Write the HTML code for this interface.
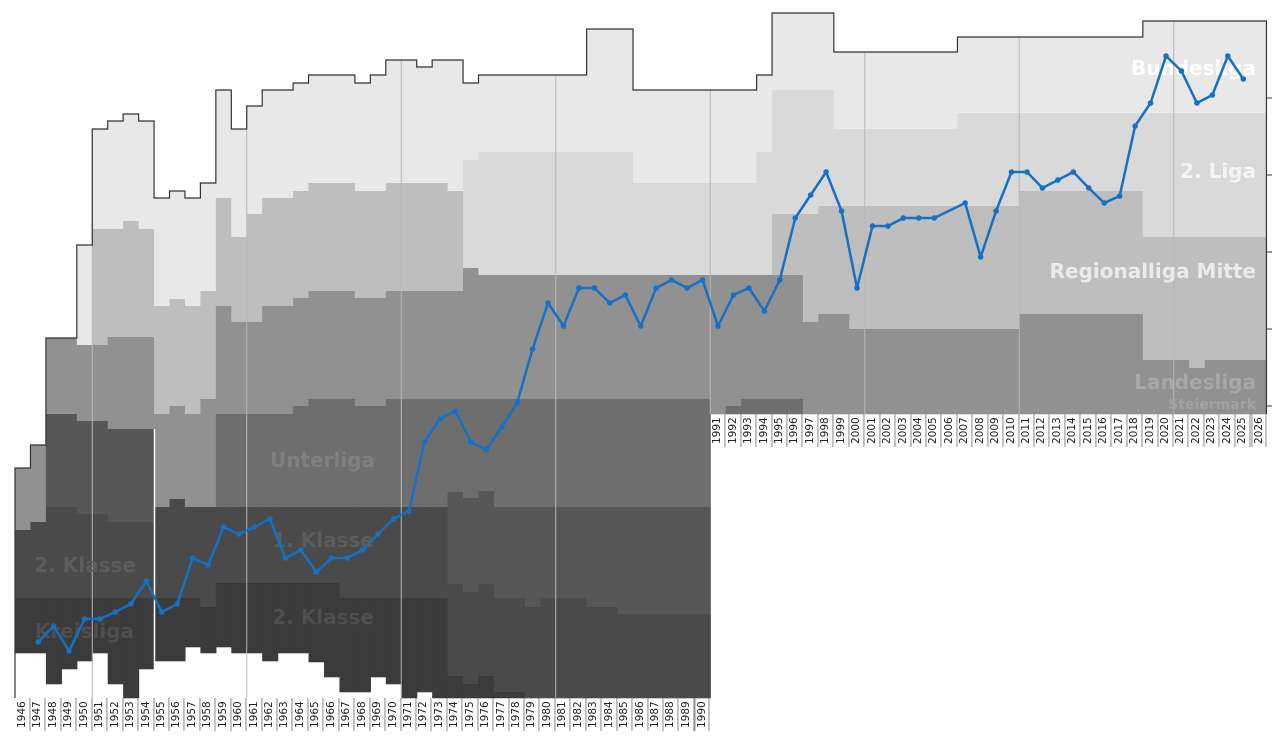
<!DOCTYPE html>
<html><head><meta charset="utf-8">
<style>
html,body{margin:0;padding:0;background:#fff;}
#wrap{position:relative;width:1280px;height:738px;overflow:hidden;font-family:"DejaVu Sans","Liberation Sans",sans-serif;}
svg{position:absolute;left:0;top:0;}
.row{position:absolute;display:flex;height:33px;}
.row div{box-sizing:border-box;width:15.45px;flex:none;border-left:1px solid #888;height:33px;writing-mode:vertical-rl;transform:rotate(180deg);font-size:10.5px;line-height:14px;text-align:center;color:#222;}
.row div:last-child{border-left:1px solid #888;border-right:1px solid #888;}
</style></head><body>
<div id="wrap">
<svg id="s" width="1280" height="738" xmlns="http://www.w3.org/2000/svg">
<g id="fill"></g>
<g id="grid"></g>
<path id="outline" fill="none" stroke="#333" stroke-width="1.2"/>
<line x1="154.5" y1="429" x2="154.5" y2="698" stroke="#fff" stroke-width="1.5"/>
<g stroke="#333" stroke-width="1">
<line x1="1266" y1="98" x2="1272" y2="98"/><line x1="1266" y1="175" x2="1272" y2="175"/><line x1="1266" y1="252" x2="1272" y2="252"/><line x1="1266" y1="329" x2="1272" y2="329"/><line x1="1266" y1="406" x2="1272" y2="406"/>
</g>
<g font-family="DejaVu Sans, Liberation Sans, sans-serif" font-weight="bold" text-anchor="end">
<text x="1256" y="75" font-size="20" fill="#ffffff">Bundesliga</text>
<text x="1256" y="178" font-size="20" fill="#f4f4f4">2. Liga</text>
<text x="1256" y="278" font-size="20" fill="#ebebeb">Regionalliga Mitte</text>
<text x="1256" y="389" font-size="20" fill="#a8a8a8">Landesliga</text>
<text x="1256" y="409" font-size="14" fill="#a2a2a2">Steiermark</text>
<text x="375" y="467" font-size="20" fill="#808080">Unterliga</text>
<text x="374" y="547" font-size="20" fill="#5c5c5c">1. Klasse</text>
<text x="136" y="572" font-size="20" fill="#5c5c5c">2. Klasse</text>
<text x="374" y="624" font-size="20" fill="#4e4e4e">2. Klasse</text>
<text x="134" y="638" font-size="20" fill="#4e4e4e">Kreisliga</text>
</g>
<path id="blue" fill="none" stroke="#1670c4" stroke-width="2.5" stroke-linejoin="round"/>
<g id="dots" fill="#1670c4"></g>
</svg>
<div class="row" style="left:15px;top:698px;">
<div>1946</div><div>1947</div><div>1948</div><div>1949</div><div>1950</div><div>1951</div><div>1952</div><div>1953</div><div>1954</div><div>1955</div><div>1956</div><div>1957</div><div>1958</div><div>1959</div><div>1960</div><div>1961</div><div>1962</div><div>1963</div><div>1964</div><div>1965</div><div>1966</div><div>1967</div><div>1968</div><div>1969</div><div>1970</div><div>1971</div><div>1972</div><div>1973</div><div>1974</div><div>1975</div><div>1976</div><div>1977</div><div>1978</div><div>1979</div><div>1980</div><div>1981</div><div>1982</div><div>1983</div><div>1984</div><div>1985</div><div>1986</div><div>1987</div><div>1988</div><div>1989</div><div>1990</div>
</div>
<div class="row" style="left:710.25px;top:414px;">
<div>1991</div><div>1992</div><div>1993</div><div>1994</div><div>1995</div><div>1996</div><div>1997</div><div>1998</div><div>1999</div><div>2000</div><div>2001</div><div>2002</div><div>2003</div><div>2004</div><div>2005</div><div>2006</div><div>2007</div><div>2008</div><div>2009</div><div>2010</div><div>2011</div><div>2012</div><div>2013</div><div>2014</div><div>2015</div><div>2016</div><div>2017</div><div>2018</div><div>2019</div><div>2020</div><div>2021</div><div>2022</div><div>2023</div><div>2024</div><div>2025</div><div>2026</div>
</div>
</div>
<script>
var C={A:"#e8e8e8",B:"#d9d9d9",C:"#bebebe",D:"#919191",E:"#6e6e6e",F:"#575757",G:"#4a4a4a",H:"#3b3b3b"};
var d=[
[653,"D468 G530 H598"],[653,"D445 G522 H598"],[684,"D338 F414 G507 H598"],[669,"D338 F414 G507 H598"],
[661,"A245 D345 F421 G514 H598"],[653,"A129 C229 D345 F421 G514 H598"],[684,"A121 C229 D337 F429 G522 H598"],
[698,"A114 C221 D337 F429 G522 H598"],[669,"A121 C229 D337 F429 G522 H598"],
[661,"A198 C306 D414 G507 H598"],[661,"A191 C299 D406 G499 H598"],[647,"A198 C306 D414 G507 H598"],[653,"A183 C291 D399 G507 H607"],
[647,"A90 C198 D306 E414 G507 H583"],[653,"A129 C237 D322 E414 G507 H583"],[653,"A106 C214 D322 E414 G507 H583"],
[661,"A90 C198 D306 E414 G507 H583"],[653,"A90 C198 D306 E414 G507 H583"],[653,"A83 C191 D298 E406 G507 H583"],
[662,"A75 C183 D291 E399 G507 H583"],[677,"A75 C183 D291 E399 G507 H583"],[692,"A75 C183 D291 E399 G507 H598"],
[692,"A83 C191 D298 E406 G507 H598"],[677,"A75 C191 D298 E406 G507 H598"],[684,"A60 C183 D291 E399 G507 H598"],
[698,"A60 C183 D291 E399 G507 H598"],[692,"A67 C183 D291 E399 G507 H598"],[698,"A60 C183 D291 E399 G507 H598"],
[698,"A60 C191 D291 E399 F492 G584 H676"],[698,"A83 B160 D268 E399 F498 G592 H684"],[698,"A75 B152 D275 E399 F491 G584 H676"],
[698,"A75 B152 D275 E399 F507 G598 H692"],[698,"A75 B152 D275 E399 F507 G598 H692"],[698,"A75 B152 D275 E399 F507 G607"],
[698,"A75 B152 D275 E399 F507 G598"],[698,"A75 B152 D275 E399 F507 G598"],[698,"A75 B152 D275 E399 F507 G598"],
[698,"A29 B152 D275 E399 F507 G607"],[698,"A29 B152 D275 E399 F507 G607"],[698,"A29 B152 D275 E399 F507 G614"],
[698,"A90 B183 D275 E399 F507 G614"],[698,"A90 B183 D275 E399 F507 G614"],[698,"A90 B183 D275 E399 F507 G614"],
[698,"A90 B183 D275 E399 F507 G614"],[698,"A90 B183 D275 E399 F507 G614"],
[414,"A90 B183 D275"],[414,"A90 B183 D275 E406"],[414,"A90 B183 D275 E399"],[414,"A75 B152 D275 E399"],
[414,"A13 B90 C214 D275 E399"],[414,"A13 B90 C214 D275 E399"],[414,"A13 B90 C214 D322"],[414,"A13 B90 C206 D314"],
[414,"A52 B129 C206 D314"]];
for(var k=0;k<7;k++)d.push([414,"A52 B129 C206 D329"]);
for(k=0;k<4;k++)d.push([414,"A37 B113 C206 D329"]);
for(k=0;k<8;k++)d.push([414,"A37 B113 C191 D314"]);
for(k=0;k<8;k++)d.push([414,(k==3?"A21 B113 C237 D368":"A21 B113 C237 D360")]);
var W=15.45,X0=15,ns="http://www.w3.org/2000/svg",f=document.getElementById("fill"),g=document.getElementById("grid");
var tops=[];
d.forEach(function(c,i){
  var segs=c[1].split(" ").map(function(s){return [s[0],+s.slice(1)];});
  tops.push(segs[0][1]);
  segs.forEach(function(s,j){
    var y2=j<segs.length-1?segs[j+1][1]:c[0];
    var r=document.createElementNS(ns,"rect");
    r.setAttribute("x",X0+i*W);r.setAttribute("y",s[1]);
    r.setAttribute("width",W+0.6);r.setAttribute("height",y2-s[1]+0.3);
    r.setAttribute("fill",C[s[0]]);f.appendChild(r);
  });
});
var p="M"+X0+",698 V"+tops[0];
for(var i=0;i<tops.length;i++){p+=" H"+(X0+(i+1)*W).toFixed(2);if(i+1<tops.length)p+=" V"+tops[i+1];}
p+=" V414";
document.getElementById("outline").setAttribute("d",p);
[5,15,25,35,45,55,65,75].forEach(function(i){
  var l=document.createElementNS(ns,"line"),x=X0+i*W;
  l.setAttribute("x1",x);l.setAttribute("x2",x);l.setAttribute("y1",tops[i]);l.setAttribute("y2",i<45?698:414);
  l.setAttribute("stroke","#b8b8b8");l.setAttribute("stroke-width","1");g.appendChild(l);
});
var b=[642,626,651,619,619,612,604,581,612,604,558,565,527,534,527,519,558,550,572,558,558,550,534,519,511,442,419,411,442,450,427,403,349,303,326,288,288,303,295,326,288,280,288,280,326,295,288,311,280,218,195,172,211,288,226,226,218,218,218,null,203,257,211,172,172,188,180,172,188,203,196,126,103,56,71,103,95,56,79];
var bp="",dots=document.getElementById("dots");
b.forEach(function(y,k){if(y===null)return;var i=k+1,x=X0+i*W+W/2;
  bp+=(bp?" L":"M")+x.toFixed(2)+","+y;
  var c=document.createElementNS(ns,"circle");c.setAttribute("cx",x);c.setAttribute("cy",y);c.setAttribute("r","2.8");dots.appendChild(c);});
document.getElementById("blue").setAttribute("d",bp);
</script>
</body></html>
